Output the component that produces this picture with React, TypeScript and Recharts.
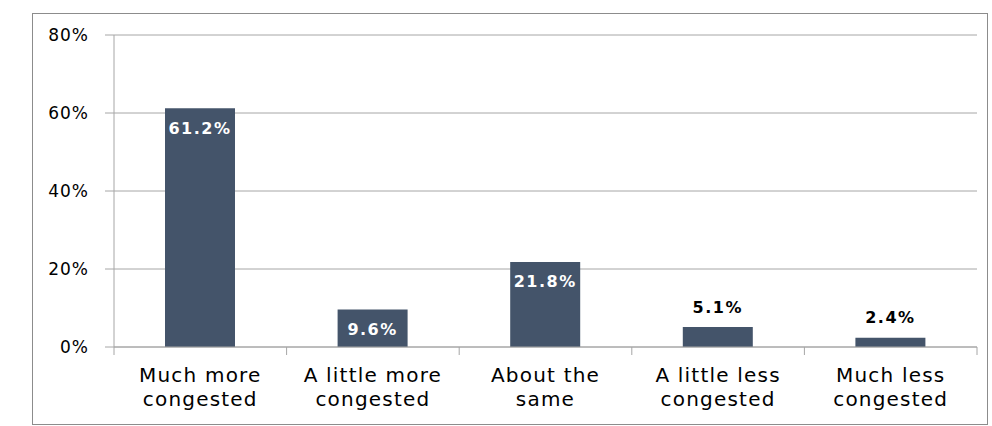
import { BarChart, Bar, XAxis, YAxis, CartesianGrid, LabelList } from "recharts";

const categories = [
  "Much more congested",
  "A little more congested",
  "About the same",
  "A little less congested",
  "Much less congested",
];
const tickLines = [
  ["Much more", "congested"],
  ["A little more", "congested"],
  ["About the", "same"],
  ["A little less", "congested"],
  ["Much less", "congested"],
];
const shares = [61.2, 9.6, 21.8, 5.1, 2.4];
const yTicks = [0, 20, 40, 60, 80];

const data = categories.map((name, i) => ({ name, value: shares[i], lines: tickLines[i] }));

const W = 992;
const H = 426;
const M = { top: 35, right: 15, left: 0, bottom: 0 };
const Y_W = 114;
const X_H = 79;
const halfBand = (W - M.right - Y_W) / categories.length / 2;
const font = "'DejaVu Sans', sans-serif";
const barColor = "#44546A";
const lineColor = "#A6A6A6";

function CategoryTick(props: any) {
  const { x, y, payload, index } = props;
  const lines = tickLines[index] || [payload.value];
  const axisY = y - 8;
  return (
    <g>
      <line x1={x - halfBand} x2={x - halfBand} y1={axisY} y2={axisY + 8} stroke={lineColor} />
      {index === categories.length - 1 && (
        <line x1={x + halfBand} x2={x + halfBand} y1={axisY} y2={axisY + 8} stroke={lineColor} />
      )}
      <text
        x={x}
        textAnchor="middle"
        fill="#000"
        fontFamily={font}
        fontSize={20}
        letterSpacing={1.2}
      >
        {lines.map((l: string, i: number) => (
          <tspan key={i} x={x} y={axisY + 35 + i * 24}>
            {l}
          </tspan>
        ))}
      </text>
    </g>
  );
}

function ValueLabel(props: any) {
  const { x, y, width, value } = props;
  const inside = value > 8;
  return (
    <text
      x={x + width / 2}
      y={inside ? y + 20 : y - 20}
      textAnchor="middle"
      dominantBaseline="central"
      fill={inside ? "#FFFFFF" : "#000000"}
      fontFamily={font}
      fontWeight="bold"
      fontSize={16}
      letterSpacing={1.5}
    >
      {value.toFixed(1)}%
    </text>
  );
}

export default function App() {
  return (
    <div style={{ position: "absolute", left: 0, top: 0, width: W, height: H, background: "#fff" }}>
      <div
        style={{
          position: "absolute",
          left: 32,
          top: 13,
          width: 954,
          height: 410,
          border: "1px solid #8C8C8C",
        }}
      />
      <div style={{ position: "absolute", left: 0, top: 0 }}>
        <BarChart width={W} height={H} data={data} margin={M} barCategoryGap={0}>
          <CartesianGrid vertical={false} stroke={lineColor} />
          <XAxis
            dataKey="name"
            height={X_H}
            interval={0}
            tickLine={false}
            tickSize={8}
            tickMargin={0}
            stroke={lineColor}
            tick={<CategoryTick />}
          />
          <YAxis
            width={Y_W}
            domain={[0, 80]}
            ticks={yTicks}
            interval={0}
            tickFormatter={(v) => `${v}%`}
            tickSize={9}
            tickMargin={16}
            stroke={lineColor}
            tick={{ fill: "#000", fontFamily: font, fontSize: 17, letterSpacing: 1 }}
          />
          <Bar dataKey="value" fill={barColor} barSize={70} isAnimationActive={false}>
            <LabelList dataKey="value" content={<ValueLabel />} />
          </Bar>
        </BarChart>
      </div>
    </div>
  );
}
